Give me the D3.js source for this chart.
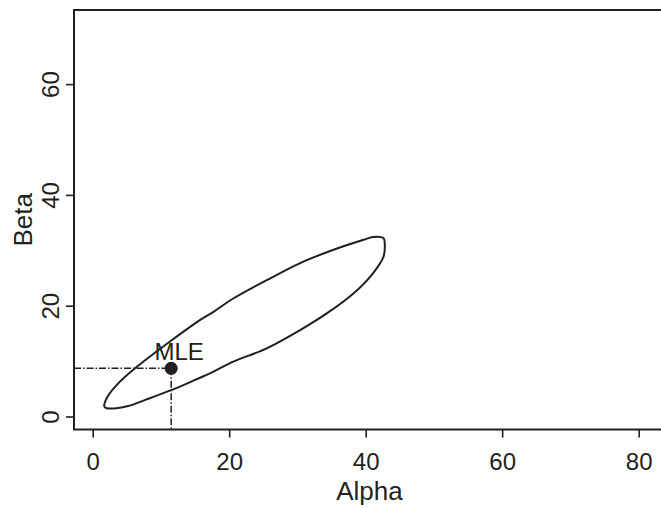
<!DOCTYPE html>
<html>
<head>
<meta charset="utf-8">
<script src="https://cdn.jsdelivr.net/npm/d3@7"></script>
<style>
  body { margin: 0; background: #fff; }
  svg { display: block; font-family: "Liberation Sans", Arial, sans-serif; }
</style>
</head>
<body>
<svg id="chart" width="661" height="509"></svg>
<script>
// confidence region (alpha, beta)
var contourAlpha = [1.7, 2.05, 3.3, 6.2, 15.7, 17.7, 20.6, 25.5, 30.4, 35.3, 39.7, 41.1, 42.6, 42.8, 42.6, 41.1, 38.2, 34.3, 30.4, 25.5, 20.6, 17.7, 15.0, 11.6, 7.7, 5.2, 2.05];
var contourBeta  = [1.8, 3.3, 5.4, 8.7, 17.4, 18.9, 21.3, 24.6, 27.7, 30.1, 31.9, 32.4, 32.2, 31.0, 28.8, 25.9, 22.2, 18.6, 15.6, 12.3, 9.9, 8.1, 6.6, 4.8, 3.0, 1.9, 1.5];

var mle = { alpha: 11.5, beta: 8.7 };

var xTicks = [0, 20, 40, 60, 80];
var yTicks = [0, 20, 40, 60];

var ink = '#231f20';

var svg = d3.select('#chart');

// plot box edges (window.top is taken, hence the names)
var boxL = 74, boxR = 665, boxT = 10, boxB = 429.5;

var x = d3.scaleLinear().domain([-2.74, 83.86]).range([boxL, boxR]);
var y = d3.scaleLinear().domain([-2.35, 73.38]).range([boxB, boxT]);

// plot box
svg.append('rect')
    .attr('x', boxL).attr('y', boxT)
    .attr('width', boxR - boxL).attr('height', boxB - boxT)
    .attr('fill', 'none')
    .attr('stroke', ink)
    .attr('stroke-width', 2);

// x axis
let xAxis = svg.append('g')
    .attr('transform', `translate(0 ${boxB})`)
    .call(d3.axisBottom(x).tickValues(xTicks).tickSize(8).tickPadding(15));

xAxis.select('.domain').remove();
xAxis.selectAll('line').attr('stroke', ink).attr('stroke-width', 1.6);
xAxis.selectAll('text')
    .attr('fill', ink)
    .style('font-size', '24px')
    .style('font-family', '"Liberation Sans", Arial, sans-serif');

// y axis, labels turned
let yAxis = svg.append('g')
    .attr('transform', `translate(${boxL} 0)`)
    .call(d3.axisLeft(y).tickValues(yTicks).tickSize(8));

yAxis.select('.domain').remove();
yAxis.selectAll('line').attr('stroke', ink).attr('stroke-width', 1.6);
yAxis.selectAll('text')
    .attr('transform', 'rotate(-90)')
    .attr('x', 0)
    .attr('y', -15)
    .attr('dy', 0)
    .attr('text-anchor', 'middle')
    .attr('fill', ink)
    .style('font-size', '24px')
    .style('font-family', '"Liberation Sans", Arial, sans-serif');

// axis titles
svg.append('text')
    .attr('x', (boxL + boxR) / 2)
    .attr('y', 500)
    .attr('text-anchor', 'middle')
    .attr('fill', ink)
    .style('font-size', '26px')
    .text('Alpha');

svg.append('text')
    .attr('transform', `translate(32 ${(boxT + boxB) / 2}) rotate(-90)`)
    .attr('text-anchor', 'middle')
    .attr('fill', ink)
    .style('font-size', '26px')
    .text('Beta');

// contour
let pts = contourAlpha.map((a, i) => [a, contourBeta[i]]);

svg.append('path')
    .datum(pts)
    .attr('d', d3.line().x(d => x(d[0])).y(d => y(d[1])).curve(d3.curveCatmullRomClosed.alpha(0.5)))
    .attr('fill', 'none')
    .attr('stroke', ink)
    .attr('stroke-width', 2)
    .attr('stroke-linejoin', 'round');

// MLE guide lines
let guides = svg.append('g')
    .attr('stroke', ink)
    .attr('stroke-width', 1.5)
    .attr('stroke-dasharray', '7,2,1.5,2');

guides.append('line')
    .attr('x1', boxL).attr('x2', x(mle.alpha))
    .attr('y1', y(mle.beta)).attr('y2', y(mle.beta));

guides.append('line')
    .attr('x1', x(mle.alpha)).attr('x2', x(mle.alpha))
    .attr('y1', y(mle.beta)).attr('y2', boxB);

svg.append('circle')
    .attr('cx', x(mle.alpha))
    .attr('cy', y(mle.beta))
    .attr('r', 6.5)
    .attr('fill', ink);

svg.append('text')
    .attr('x', x(mle.alpha) + 8)
    .attr('y', y(mle.beta) - 8)
    .attr('text-anchor', 'middle')
    .attr('fill', ink)
    .style('font-size', '24px')
    .text('MLE');
</script>
</body>
</html>
